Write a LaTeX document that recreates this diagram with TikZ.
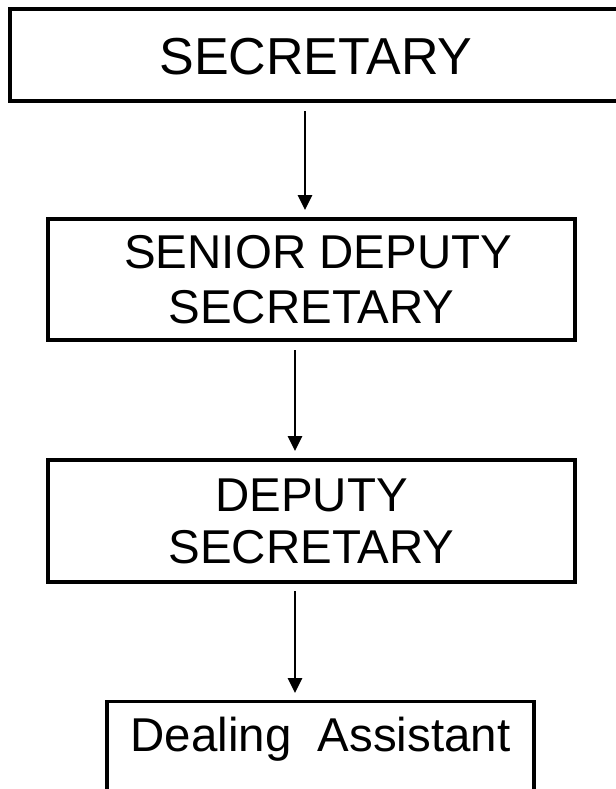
\documentclass[tikz,border=0pt]{standalone}
\usepackage{fontspec}
\setmainfont{Liberation Sans}
\usetikzlibrary{calc,arrows.meta}

\tikzset{every picture/.style={line width=0.75pt}}
\tikzset{
	post/.style={draw,rectangle,inner xsep=0pt,inner ysep=0pt,align=center},
	flow/.style={line width=2.2pt,-{Triangle[width=10.5pt,length=11.25pt]}}}

\begin{document}
\begin{tikzpicture}[x=0.75pt,y=0.75pt,yscale=-1,xscale=1]
	\useasboundingbox (0,0) rectangle (616,789);

	%Shape: Rectangle [top]
	\node (sec) [post,line width=3pt,anchor=north,minimum width=459pt,text height=48.75pt,text depth=20.25pt,font=\fontsize{39}{45}\selectfont] at (316,7) {SECRETARY};
	%Shape: Rectangle [second]
	\node (sds) [post,line width=3pt,minimum width=395.25pt,minimum height=90.75pt,font=\fontsize{35.6}{41}\selectfont] at (311.5,279.5) {\hspace*{.28em}SENIOR DEPUTY\\SECRETARY};
	%Shape: Rectangle [third]
	\node (ds) [post,line width=3pt,minimum width=395.25pt,minimum height=91.5pt,font=\fontsize{35.6}{39}\selectfont] at (311.5,521) {DEPUTY\\SECRETARY};
	%Shape: Rectangle [bottom]
	\node (da) [post,line width=2.5pt,anchor=north,minimum width=320.25pt,text height=37.5pt,text depth=67.5pt,font=\fontsize{35.6}{41}\selectfont] at (320.5,700) {Dealing\ \ Assistant};

	%Straight Lines
	\draw [flow] ($(sec.south)+(-11,8)$) -- ($(sds.north)+(-6.5,-7)$) ;
	\draw [flow] ($(sds.south)+(-16.5,8)$) -- ($(ds.north)+(-16.5,-7)$) ;
	\draw [flow] ($(ds.south)+(-16.5,7)$) -- ($(da.north)+(-25.5,-7)$) ;

\end{tikzpicture}
\end{document}
